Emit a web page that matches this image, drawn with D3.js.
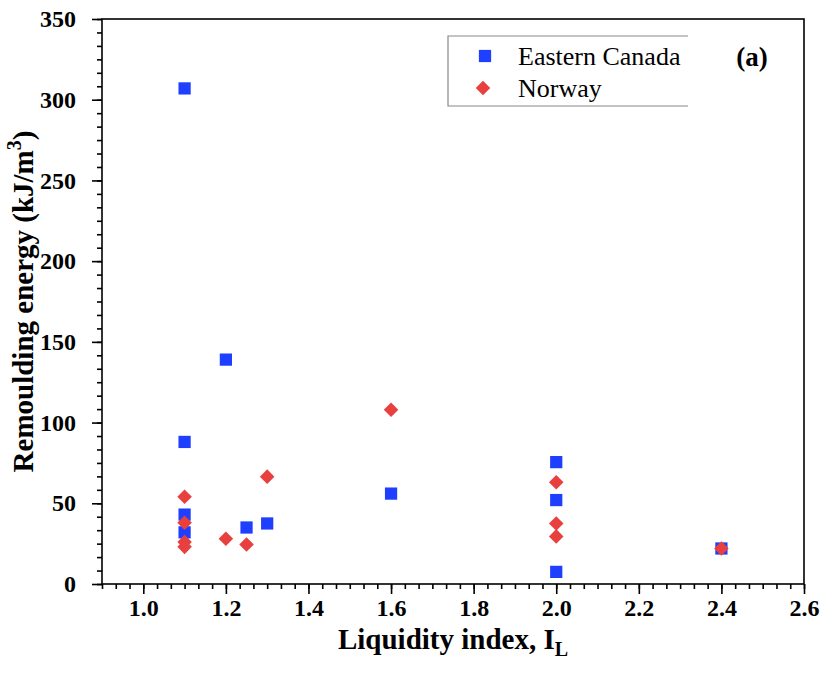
<!DOCTYPE html>
<html>
<head>
<meta charset="utf-8">
<script src="https://cdn.jsdelivr.net/npm/d3@7"></script>
<style>
  html, body { margin: 0; padding: 0; background: #fff; }
  svg { display: block; }
  text { font-family: "Liberation Serif", "Times New Roman", serif; fill: #000; }
</style>
</head>
<body>
<svg id="chart" width="824" height="682"></svg>
<script>
// Liquidity index vs remoulding energy
const canadaIL = [1.1, 1.1, 1.1, 1.1, 1.2, 1.25, 1.3, 1.6, 2.0, 2.0, 2.0, 2.4];
const canadaE  = [307, 88, 43, 32, 139, 35, 37.5, 56, 75.5, 52, 7.5, 22];
const norwayIL = [1.1, 1.1, 1.1, 1.1, 1.2, 1.25, 1.3, 1.6, 2.0, 2.0, 2.0, 2.4];
const norwayE  = [54, 38, 26, 23, 28, 24.5, 66.5, 108, 63, 37.5, 29.5, 22];

const xTicks = [1.0, 1.2, 1.4, 1.6, 1.8, 2.0, 2.2, 2.4, 2.6];
const yTicks = [0, 50, 100, 150, 200, 250, 300, 350];
const seriesNames = ["Eastern Canada", "Norway"];

const blue = "#1f3fff";
const red = "#e8403f";

const svg = d3.select("#chart");
const m = { left: 102, right: 804, top: 19, bottom: 584 };

const x = d3.scaleLinear().domain([0.9, 2.6]).range([m.left, m.right]);
const y = d3.scaleLinear().domain([0, 350]).range([m.bottom, m.top]);

// minor ticks: 5 between each pair of majors
const xMinor = d3.range(0, 52).map(i => 0.9 + i * (0.2 / 6)).filter(v => v <= 2.6001);
const yMinor = d3.range(0, 43).map(i => i * (50 / 6)).filter(v => v <= 350.001);

// frame
svg.append("rect")
  .attr("x", m.left).attr("y", m.top)
  .attr("width", m.right - m.left).attr("height", m.bottom - m.top)
  .attr("fill", "none").attr("stroke", "#000").attr("stroke-width", 1.6);

function styleAxis(g) {
  g.select(".domain").remove();
  g.selectAll(".tick line").attr("stroke", "#000").attr("stroke-width", 1.6);
  g.selectAll(".tick text")
    .style("font-family", '"Liberation Serif", serif')
    .style("font-weight", "bold").style("font-size", "24px").attr("fill", "#000");
}

// x axis
const xAxisMinor = d3.axisBottom(x).tickValues(xMinor).tickSize(5).tickFormat("");
const xAxisMajor = d3.axisBottom(x).tickValues(xTicks).tickSize(10).tickPadding(5)
  .tickFormat(d3.format(".1f"));
svg.append("g").attr("transform", `translate(0,${m.bottom})`).call(xAxisMinor).call(styleAxis);
svg.append("g").attr("transform", `translate(0,${m.bottom})`).call(xAxisMajor).call(styleAxis);

// y axis
const yAxisMinor = d3.axisLeft(y).tickValues(yMinor).tickSize(5).tickFormat("");
const yAxisMajor = d3.axisLeft(y).tickValues(yTicks).tickSize(10).tickPadding(16)
  .tickFormat(d3.format("d"));
svg.append("g").attr("transform", `translate(${m.left},0)`).call(yAxisMinor).call(styleAxis);
svg.append("g").attr("transform", `translate(${m.left},0)`).call(yAxisMajor).call(styleAxis);

// axis titles
const xt = svg.append("text")
  .attr("x", 453).attr("y", 649)
  .attr("text-anchor", "middle")
  .style("font-size", "29px").style("font-weight", "bold");
xt.append("tspan").text("Liquidity index, I");
xt.append("tspan").attr("dy", 7).style("font-size", "20px").text("L");

const yt = svg.append("text")
  .attr("transform", `translate(33,${(m.top + m.bottom) / 2}) rotate(-90)`)
  .attr("text-anchor", "middle")
  .style("font-size", "29px").style("font-weight", "bold");
yt.append("tspan").text("Remoulding energy (kJ/m");
yt.append("tspan").attr("dy", -12).style("font-size", "20px").text("3");
yt.append("tspan").attr("dy", 12).text(")");

// markers
const canada = canadaIL.map((v, i) => ({ il: v, e: canadaE[i] }));
const norway = norwayIL.map((v, i) => ({ il: v, e: norwayE[i] }));
const sq = d3.symbol().type(d3.symbolSquare).size(150);
const dm = d3.symbol().type(d3.symbolDiamond2).size(135);

svg.append("g").selectAll("path").data(canada).join("path")
  .attr("d", sq)
  .attr("transform", d => `translate(${x(d.il)},${y(d.e)})`)
  .attr("fill", blue);

svg.append("g").selectAll("path").data(norway).join("path")
  .attr("d", dm)
  .attr("transform", d => `translate(${x(d.il)},${y(d.e)})`)
  .attr("fill", red);

// legend
const lg = svg.append("g");
lg.append("path")
  .attr("d", "M688,36 H448 V106 H688")
  .attr("fill", "none").attr("stroke", "#888").attr("stroke-width", 1.2);
lg.append("path").attr("d", sq).attr("transform", "translate(485,56)").attr("fill", blue);
lg.append("path").attr("d", dm).attr("transform", "translate(483,88)").attr("fill", red);
lg.append("text").attr("x", 518).attr("y", 65).style("font-size", "26px").text(seriesNames[0]);
lg.append("text").attr("x", 518).attr("y", 97).style("font-size", "26px").text(seriesNames[1]);

// panel label
svg.append("text").attr("x", 752).attr("y", 66).attr("text-anchor", "middle")
  .style("font-size", "27px").style("font-weight", "bold").text("(a)");
</script>
</body>
</html>
